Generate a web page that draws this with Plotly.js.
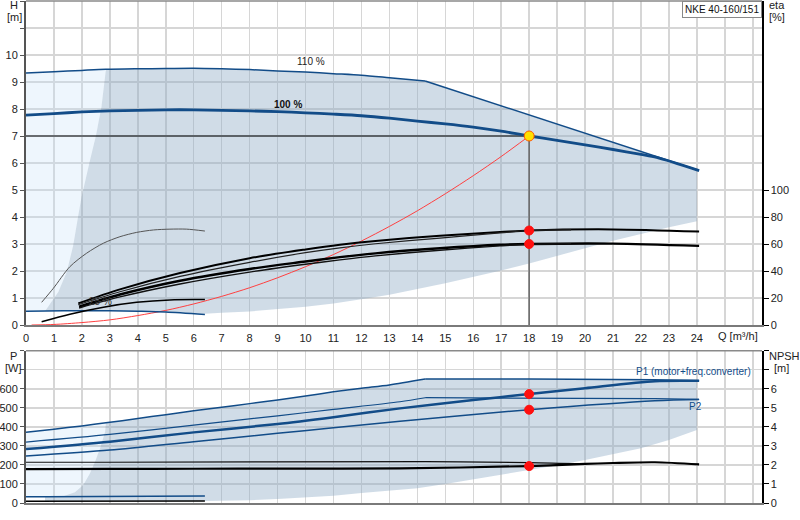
<!DOCTYPE html>
<html><head><meta charset="utf-8">
<script src="https://cdn.plot.ly/plotly-3.0.1.min.js"></script>
<style>html,body{margin:0;padding:0;background:#fff}#chart{width:800px;height:520px}</style>
</head><body><div id="chart"></div>
<script>
// ---------------- data ----------------
const qTickVals = [0,1,2,3,4,5,6,7,8,9,10,11,12,13,14,15,16,17,18,19,20,21,22,23,24,25,26];
const qTickText = ['0','1','2','3','4','5','6','7','8','9','10','11','12','13','14','15','16','17','18','19','20','21','22','23','24','',''];
const hTickVals = [0,1,2,3,4,5,6,7,8,9,10,11,12];
const hTickText = ['0','1','2','3','4','5','6','7','8','9','10','',''];
const etaTickVals = [0,20,40,60,80,100];
const pTickVals = [0,100,200,300,400,500,600,700,800];
const pTickText = ['0','100','200','300','400','500','600','',''];
const npshTickVals = [0,1,2,3,4,5,6,7,8];
const npshTickText = ['0','1','2','3','4','5','6','',''];

// head curves (m)
const qH110 = [0,1,2,2.86,4,5,6,7,8,9,10,11,12,13,14.28,24.08];
const hH110 = [9.33,9.38,9.43,9.47,9.49,9.5,9.51,9.49,9.46,9.41,9.37,9.31,9.25,9.16,9.04,5.72];
const qH100 = [0,1,2,3,4,5,6,7,8,9,10,11,12,13,14,15,16,17,18,19,20,21,22,22.56,24.08];
const hH100 = [7.77,7.83,7.89,7.93,7.95,7.97,7.97,7.95,7.93,7.90,7.86,7.81,7.75,7.66,7.55,7.45,7.33,7.18,7.0,6.84,6.67,6.5,6.32,6.21,5.72];
const qH25 = [0,0.68,2,3,4,5,6.4];
const hH25 = [0.51,0.52,0.53,0.53,0.51,0.48,0.39];
// system curve
const qSys = [0.2,1,2,3,4,5,6,7,8,9,10,11,12,13,14,15,16,17,18];
const hSys = [0,0.02,0.09,0.19,0.35,0.54,0.78,1.06,1.38,1.75,2.16,2.61,3.11,3.65,4.23,4.86,5.53,6.24,7.0];
// efficiency curves (%)
const qEtaA = [1.87,3.36,5.51,8,10,11.23,12.5,14.81,16.96,18,21,24.08];
const etaA  = [16,26.4,38.5,49.5,56,59.5,62.3,66.2,68.8,70,70.8,69.2];
const qEtaB = [1.87,3.36,5.51,8,10,11.23,12.5,14.81,16.96,18,19.5];
const etaB  = [15,24.6,36,46.4,53.6,57.2,60.2,64.4,68.2,70,70.4];
const qEtaC = [1.9,3.36,5.51,8,10,11.23,12.5,14.81,16.96,18,21,24.08];
const etaC  = [13.6,22.6,32.8,41.5,47,50.3,53.1,56.8,59.4,60,60.3,58.6];
const qEtaD = [1.9,3.36,5.51,8,10,11.23,12.5,14.81,16.96,18,19.5];
const etaD  = [12.6,20.8,30.4,39.2,45,48.2,51.2,55.4,58.6,59.8,60.2];
const qEta25 = [0.56,0.98,1.57,2.17,2.77,3.36,3.96,4.56,5.15,5.75,6.4];
const eta25  = [16.8,27.2,43.2,53.2,60.6,65.4,68.6,70.4,71,71,69.6];
const qEta25b = [0.56,1.57,2.77,3.96,5.15,6.4];
const eta25b  = [2.4,8,13.2,16.8,18.6,18.8];
// shaded operating range (top)
const qLeftEdge = [0.68,0.92,1.16,1.46,1.69,1.87,1.98,2.29,2.5,2.7,2.86];
const hLeftEdge = [0.51,0.86,1.23,1.97,2.95,4.06,4.7,6.1,7.0,8.08,9.47];
const qLowEdge = [24,23,22,21,20,19,18,17,16,15,14,13,12,11,10,9,8,7,6.4];
const hLowEdge = [3.84,3.62,3.38,3.12,2.84,2.55,2.28,2.02,1.78,1.55,1.33,1.12,0.95,0.8,0.68,0.58,0.5,0.45,0.42];
// power curves (W)
const qP1_110 = [0,1,2,2.86,4,5,6,7,8,9,10,11,12,13,14.28,18,22.5,24.08];
const pP1_110 = [371,388,405,421,444,464,484,503,522,541,562,584,603,620,651,651,647,642];
const qP2_110 = [0,3,6,9,11,13.38,14.28,18,22.5,24.08];
const pP2_110 = [320,360,409,458,492,532,553,552,548,544];
const qP1_100 = [0,3,6,9,11,13.38,16,18,20,22.5,24.08];
const pP1_100 = [283,322,371,415,451,497,541,572,603,640,642];
const qP2_100 = [0,3,6,9,11,13.38,18,22.5,24.08];
const pP2_100 = [247,278,322,366,395,430,490,537,544];
const qP1_25 = [0,0.68,6.4];
const pP1_25 = [33,33,37];
// NPSH curves (m)
const qN110 = [0,2.86,14.3,18,20];
const nN110 = [2.14,2.14,2.17,2.12,2.05];
const qN100 = [0,3,6,9,13.38,18,20,21,22.5,24.08];
const nN100 = [1.78,1.79,1.8,1.81,1.82,1.94,2.05,2.1,2.14,2.03];
const qN25 = [0,0.68,6.4];
const nN25 = [0.09,0.09,0.1];
// shaded operating range (bottom)
const qLeftEdgeP = [0.68,0.68,1.33,1.75,2.05,2.29,2.47,2.65,2.83,2.86];
const pLeftEdgeP = [9,33,36,56,94,156,217,287,374,421];
const qLowEdgeP = [24,23,22,21,20,19,18,17,16,15,14,13,12,11,10,9,8,7,6.4];
const pLowEdgeP = [383,331,287,255,226,198,173,150,125,100,77,66,52,38,28,21,15,12,10];
// operating point
const opQ = 18, opH = 7;
const opEta = [70,60];
const opP = [572,490];
const opNPSH = 1.94;

// ---------------- build ----------------
const BLUE = '#124c88';
const DARK = 'rgba(140,170,196,0.41)';
const LIGHT = 'rgba(200,225,250,0.31)';
function part(qs, vs, lo, hi){ const x=[],y=[]; qs.forEach((q,i)=>{ if(q>=lo && q<=hi){x.push(q);y.push(vs[i]);} }); return {x,y}; }

// top dark polygon
const topArc = part(qH110, hH110, 2.86, 24.08);
const h25Rev = part(qH25, hH25, 0.68, 6.39);
const darkTopX = [].concat(qLeftEdge, topArc.x.slice(1, -1), [24,24], qLowEdge, h25Rev.x.slice().reverse());
const darkTopY = [].concat(hLeftEdge, topArc.y.slice(1, -1), [5.72, hLowEdge[0]], hLowEdge, h25Rev.y.slice().reverse());
// top light polygon
const lightArc = part(qH110, hH110, 0, 2.86);
const lightTopX = [0].concat(lightArc.x, qLeftEdge.slice().reverse(), [0]);
const lightTopY = [hH25[0]].concat(lightArc.y, hLeftEdge.slice().reverse(), [hH25[0]]);
// bottom dark polygon
const botArc = part(qP1_110, pP1_110, 2.86, 24.08);
const darkBotX = [].concat(qLeftEdgeP, botArc.x.slice(1,-1), [24,24], qLowEdgeP, [qLeftEdgeP[0]]);
const darkBotY = [].concat(pLeftEdgeP, botArc.y.slice(1,-1), [642, pLowEdgeP[0]], pLowEdgeP, [pLeftEdgeP[0]]);
const lightBotArc = part(qP1_110, pP1_110, 0, 2.86);
const lightBotX = [0].concat(lightBotArc.x, qLeftEdgeP.slice(1).reverse(), [0]);
const lightBotY = [pP1_25[0]].concat(lightBotArc.y, pLeftEdgeP.slice(1).reverse(), [pP1_25[0]]);

function fillTrace(x,y,color,xa,ya){ return {x,y,xaxis:xa,yaxis:ya,type:'scatter',mode:'lines',fill:'toself',fillcolor:color,line:{width:0},hoverinfo:'skip',showlegend:false}; }
function lineTrace(x,y,color,w,xa,ya){ return {x,y,xaxis:xa,yaxis:ya,type:'scatter',mode:'lines',line:{color,width:w,shape:'spline',smoothing:0.8},hoverinfo:'skip',showlegend:false}; }
function straight(x,y,color,w,xa,ya){ return {x,y,xaxis:xa,yaxis:ya,type:'scatter',mode:'lines',line:{color,width:w},hoverinfo:'skip',showlegend:false}; }
function dots(x,y,xa,ya,fill,lc,size){ return {x,y,xaxis:xa,yaxis:ya,type:'scatter',mode:'markers',marker:{size,color:fill,line:{color:lc,width:1}},hoverinfo:'skip',showlegend:false}; }

const traces = [
  fillTrace(lightTopX, lightTopY, LIGHT, 'x','y'),
  fillTrace(darkTopX, darkTopY, DARK, 'x','y'),
  fillTrace(lightBotX, lightBotY, LIGHT, 'x2','y3'),
  fillTrace(darkBotX, darkBotY, DARK, 'x2','y3'),
  // top
  straight([0,opQ],[opH,opH],'#000',1.2,'x','y'),
  straight([opQ,opQ],[0,opH],'#666',1.5,'x','y'),
  lineTrace(qSys, hSys, '#ff4040', 1, 'x','y'),
  lineTrace(qH25, hH25, BLUE, 1.5, 'x','y'),
  lineTrace(qH110.slice(0,-1), hH110.slice(0,-1), BLUE, 1.5, 'x','y'),
  straight(qH110.slice(-2), hH110.slice(-2), BLUE, 1.5, 'x','y'),
  lineTrace(qH100, hH100, BLUE, 2.8, 'x','y'),
  lineTrace(qEta25, eta25, '#555', 1, 'x','y2'),
  lineTrace(qEta25b, eta25b, '#000', 1.5, 'x','y2'),
  lineTrace(qEtaA, etaA, '#000', 2, 'x','y2'),
  lineTrace(qEtaB, etaB, '#222', 1.2, 'x','y2'),
  lineTrace(qEtaC, etaC, '#000', 2.4, 'x','y2'),
  lineTrace(qEtaD, etaD, '#111', 1.4, 'x','y2'),
  dots([opQ,opQ], opEta, 'x','y2','#ff1010','#ff1010',9),
  dots([opQ],[opH],'x','y','#ffe000','#ff5a00',10),
  // bottom
  straight(qP1_25, pP1_25, BLUE, 1.5, 'x2','y3'),
  straight(qN25, nN25, '#000', 1.5, 'x2','y4'),
  lineTrace(qN110, nN110, '#111', 1.2, 'x2','y4'),
  lineTrace(qN100, nN100, '#000', 2.2, 'x2','y4'),
  lineTrace(qP1_110.slice(0,-3), pP1_110.slice(0,-3), BLUE, 1.5, 'x2','y3'),
  straight(qP1_110.slice(-4), pP1_110.slice(-4), BLUE, 1.5, 'x2','y3'),
  lineTrace(qP2_110.slice(0,-3), pP2_110.slice(0,-3), BLUE, 1.2, 'x2','y3'),
  straight(qP2_110.slice(-4), pP2_110.slice(-4), BLUE, 1.2, 'x2','y3'),
  lineTrace(qP1_100, pP1_100, BLUE, 2.5, 'x2','y3'),
  lineTrace(qP2_100, pP2_100, BLUE, 1.5, 'x2','y3'),
  dots([opQ,opQ], opP, 'x2','y3','#ff1010','#ff1010',9),
  dots([opQ],[opNPSH],'x2','y4','#ff1010','#ff1010',9)
];

const FONT = 'Liberation Sans, Arial, sans-serif';
const tickFont = {family:FONT, size:11, color:'#222'};
const gridC = '#d6d6d6';
const xBase = {range:[0,26.33], tickmode:'array', tickvals:qTickVals, showgrid:true, gridcolor:gridC, gridwidth:1.5, zeroline:false, showline:true, linecolor:'#7a7a7a', linewidth:2, fixedrange:true};

// paper coords: plot area px x 26..762, y 1..503
const py = p => (503 - p) / 502;
const px = p => (p - 26) / 736;

const layout = {
  width:800, height:520,
  margin:{l:26, r:38, t:1, b:17},
  paper_bgcolor:'#fff', plot_bgcolor:'#fff',
  font:{family:FONT, size:11, color:'#222'},
  showlegend:false,
  xaxis: Object.assign({}, xBase, {domain:[0,1], anchor:'y', ticktext:qTickText, ticks:'outside', ticklen:2, tickcolor:'rgba(0,0,0,0)', tickfont:tickFont}),
  yaxis: {domain:[py(325),1], anchor:'x', range:[0,12], tickmode:'array', tickvals:hTickVals, ticktext:hTickText, ticks:'outside', ticklen:4, tickcolor:'#555', showgrid:true, gridcolor:gridC, gridwidth:1.5, zeroline:false, showline:true, linecolor:'#555', linewidth:2, tickfont:tickFont, fixedrange:true},
  yaxis2: {overlaying:'y', side:'right', anchor:'x', range:[0,240], tickmode:'array', tickvals:etaTickVals, ticks:'outside', ticklen:5, tickcolor:'#000', showgrid:false, zeroline:false, showline:true, linecolor:'#000', linewidth:1.5, tickfont:tickFont, fixedrange:true},
  xaxis2: Object.assign({}, xBase, {domain:[0,1], anchor:'y3', showticklabels:false}),
  yaxis3: {domain:[0,py(350.7)], anchor:'x2', range:[0,800], tickmode:'array', tickvals:pTickVals, ticktext:pTickText, ticks:'outside', ticklen:4, tickcolor:'#555', showgrid:true, gridcolor:gridC, gridwidth:1.5, zeroline:false, showline:true, linecolor:'#555', linewidth:2, tickfont:tickFont, fixedrange:true},
  yaxis4: {overlaying:'y3', side:'right', anchor:'x2', range:[0,8], tickmode:'array', tickvals:npshTickVals, ticktext:npshTickText, ticks:'outside', ticklen:5, tickcolor:'#000', showgrid:false, zeroline:false, showline:true, linecolor:'#000', linewidth:1.5, tickfont:tickFont, fixedrange:true},
  shapes:[
    {type:'line', xref:'paper', yref:'paper', x0:0, x1:1, y0:1, y1:1, line:{color:'#8a8a8a', width:1.5}},
    {type:'line', xref:'paper', yref:'paper', x0:0, x1:1, y0:py(350.7), y1:py(350.7), line:{color:'#8a8a8a', width:1.5}}
  ],
  annotations:[
    {text:'H', xref:'paper', yref:'paper', x:px(14), y:py(5), xanchor:'center', yanchor:'middle', showarrow:false, font:{size:11,color:'#222'}},
    {text:'[m]', xref:'paper', yref:'paper', x:px(14), y:py(17), xanchor:'center', yanchor:'middle', showarrow:false, font:{size:11,color:'#222'}},
    {text:'eta', xref:'paper', yref:'paper', x:px(767), y:py(5), xanchor:'left', yanchor:'middle', showarrow:false, font:{size:11,color:'#222'}},
    {text:'[%]', xref:'paper', yref:'paper', x:px(767), y:py(17), xanchor:'left', yanchor:'middle', showarrow:false, font:{size:11,color:'#222'}},
    {text:'P', xref:'paper', yref:'paper', x:px(13), y:py(356), xanchor:'center', yanchor:'middle', showarrow:false, font:{size:11,color:'#222'}},
    {text:'[W]', xref:'paper', yref:'paper', x:px(13), y:py(368), xanchor:'center', yanchor:'middle', showarrow:false, font:{size:11,color:'#222'}},
    {text:'NPSH', xref:'paper', yref:'paper', x:px(767), y:py(356), xanchor:'left', yanchor:'middle', showarrow:false, font:{size:11,color:'#222'}},
    {text:'[m]', xref:'paper', yref:'paper', x:px(781), y:py(368), xanchor:'center', yanchor:'middle', showarrow:false, font:{size:11,color:'#222'}},
    {text:'Q [m³/h]', xref:'x', yref:'y', x:25.47, y:0, xanchor:'center', yanchor:'top', yshift:-3, showarrow:false, font:{size:11,color:'#222'}},
    {text:'NKE 40-160/151', xref:'paper', yref:'paper', x:1, y:1, xanchor:'right', yanchor:'top', showarrow:false, bgcolor:'#fff', bordercolor:'#888', borderwidth:1, borderpad:2, font:{size:10,color:'#111'}},
    {text:'110 %', xref:'x', yref:'y', x:10.2, y:9.75, showarrow:false, font:{size:10,color:'#222'}},
    {text:'<b>100 %</b>', xref:'x', yref:'y', x:9.36, y:8.18, showarrow:false, font:{size:10,color:'#111'}},
    {text:'25 %', xref:'x', yref:'y', x:2.65, y:0.86, showarrow:false, font:{size:10,color:'#333'}},
    {text:'P1 (motor+freq.converter)', xref:'x2', yref:'y3', x:26.0, y:689, xanchor:'right', showarrow:false, font:{size:10,color:BLUE}},
    {text:'P2', xref:'x2', yref:'y3', x:23.94, y:509, showarrow:false, font:{size:10,color:BLUE}}
  ]
};

Plotly.newPlot('chart', traces, layout, {staticPlot:true, displayModeBar:false});
</script>
</body></html>
